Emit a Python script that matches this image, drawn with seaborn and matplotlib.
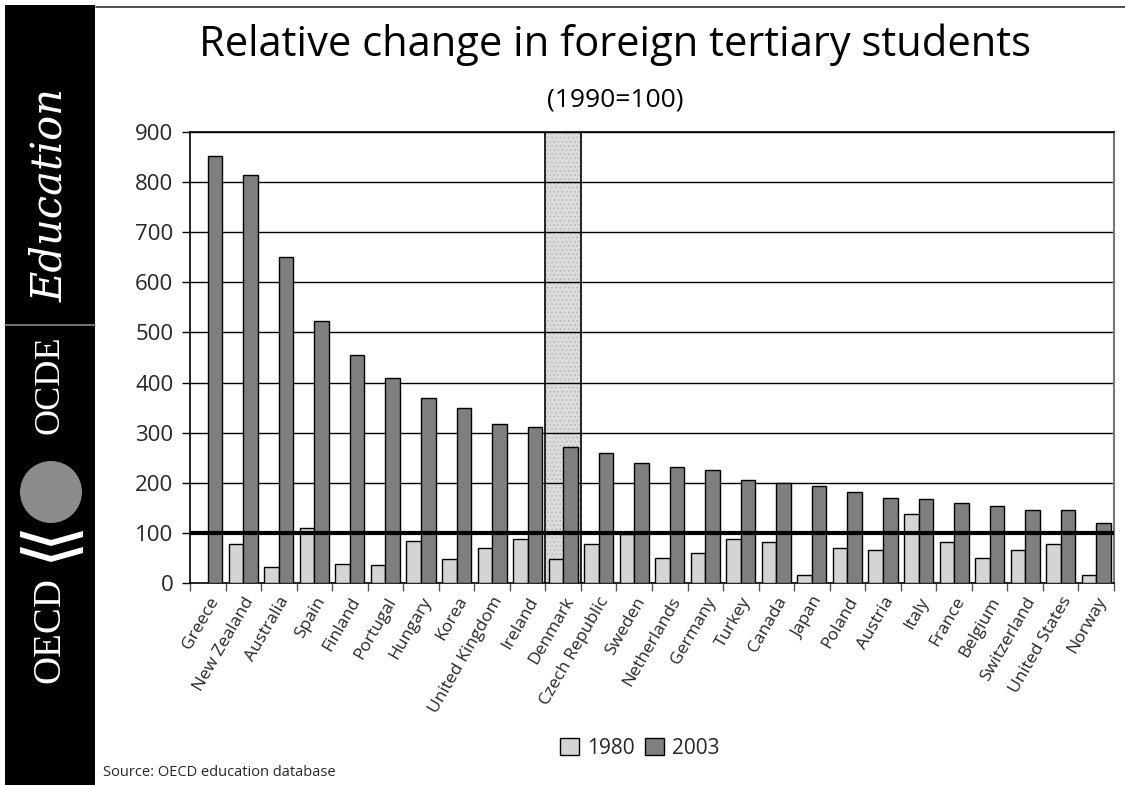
import matplotlib
matplotlib.use("Agg")
import matplotlib.pyplot as plt
import matplotlib.patches as mpatches
from matplotlib.ticker import FixedLocator
import numpy as np
import pandas as pd
import seaborn as sns

countries = ["Greece", "New Zealand", "Australia", "Spain", "Finland", "Portugal",
             "Hungary", "Korea", "United Kingdom", "Ireland", "Denmark",
             "Czech Republic", "Sweden", "Netherlands", "Germany", "Turkey",
             "Canada", "Japan", "Poland", "Austria", "Italy", "France", "Belgium",
             "Switzerland", "United States", "Norway"]
values_1980 = [np.nan, 77, 32, 109, 38, 35, 84, 47, 70, 88, 47,
               77, 97, 49, 59, 87, 81, 16, 70, 66, 137, 81, 49, 66, 77, 16]
values_2003 = [853, 815, 651, 522, 455, 410, 369, 350, 318, 311, 271,
               260, 240, 232, 226, 206, 200, 193, 181, 170, 168, 159, 154, 146, 146, 120]
series = ["1980", "2003"]
colors = ["#d4d4d4", "#7f7f7f"]
highlight = "Denmark"
yticks = [0, 100, 200, 300, 400, 500, 600, 700, 800, 900]

df = pd.DataFrame({
    "country": countries * 2,
    "year": [series[0]] * len(countries) + [series[1]] * len(countries),
    "value": values_1980 + values_2003,
})

sns.set_theme(style="white")
plt.rcParams["font.family"] = ["Open Sans", "DejaVu Sans"]
plt.rcParams["hatch.linewidth"] = 0.6

fig = plt.figure(figsize=(11.25, 7.85), dpi=100)
W, H = 1125, 785
ax = fig.add_axes([190 / W, 1 - 583 / H, (1114 - 190) / W, (583 - 132) / H])

sns.barplot(data=df, x="country", y="value", hue="year", order=countries,
            hue_order=series, palette=colors, width=0.82, gap=0,
            edgecolor="black", linewidth=1.0, saturation=1, ax=ax, legend=False,
            zorder=3)

n = len(countries)
ax.set_xlim(-0.5, n - 0.5)
ax.set_ylim(0, 900)

# highlighted column
hi = countries.index(highlight)
ax.axvspan(hi - 0.5, hi + 0.5, facecolor="#dcdcdc", edgecolor="#b5b5b5",
           hatch="....", linewidth=0, zorder=1)
ax.axvline(hi - 0.5, color="black", linewidth=1.2, zorder=2)
ax.axvline(hi + 0.5, color="black", linewidth=1.2, zorder=2)

# gridlines
for v in yticks[1:]:
    ax.axhline(v, color="black", linewidth=1.0, zorder=2)
ax.axhline(100, color="black", linewidth=3.0, zorder=4)

ax.yaxis.set_major_locator(FixedLocator(yticks))
ax.set_yticks(yticks)
ax.set_yticklabels([str(v) for v in yticks], fontsize=16)
ax.tick_params(axis="y", which="major", length=6, width=1, color="black",
               direction="out", left=True, pad=6)

ax.set_xticks(range(n))
ax.set_xticklabels(countries, rotation=60, ha="right", rotation_mode="anchor",
                   fontsize=12.5)
ax.tick_params(axis="x", which="major", length=0, pad=8)
ax.set_xticks(np.arange(-0.5, n, 1.0), minor=True)
ax.tick_params(axis="x", which="minor", length=6, width=1, color="#555555",
               direction="out", bottom=True)

ax.set_xlabel("")
ax.set_ylabel("")
for side in ["left", "top", "bottom"]:
    ax.spines[side].set_visible(True)
    ax.spines[side].set_color("black")
    ax.spines[side].set_linewidth(1.2)
ax.spines["right"].set_visible(True)
ax.spines["right"].set_color("#777777")
ax.spines["right"].set_linewidth(1.5)

# titles
fig.text(615 / W, 1 - 45 / H, "Relative change in foreign tertiary students",
         ha="center", va="center", fontsize=30, color="black")
fig.text(615 / W, 1 - 100 / H, "(1990=100)", ha="center", va="center",
         fontsize=19, color="black")

# legend
handles = [mpatches.Patch(facecolor=c, edgecolor="black", linewidth=1, label=s)
           for s, c in zip(series, colors)]
fig.legend(handles=handles, loc="center", bbox_to_anchor=(640 / W, 1 - 748 / H),
           ncol=2, frameon=False, fontsize=15, handlelength=0.9, handleheight=0.9,
           handletextpad=0.4, columnspacing=0.5, borderpad=0)

fig.text(103 / W, 1 - 773 / H, "Source: OECD education database",
         ha="left", va="center", fontsize=10.5)

# top border line
fig.add_artist(plt.Line2D([96 / W, 1.0], [1 - 7 / H, 1 - 7 / H],
                          color="#333333", linewidth=1.2))

# left banner
fig.add_artist(mpatches.Rectangle((5 / W, 0), 90 / W, 1 - 5 / H,
                                  transform=fig.transFigure, facecolor="black",
                                  edgecolor="none"))
fig.add_artist(plt.Line2D([5 / W, 95 / W], [1 - 325 / H, 1 - 325 / H],
                          color="#888888", linewidth=1.2))
fig.text(50 / W, 1 - 195 / H, "Education", rotation=90, ha="center", va="center",
         color="white", fontsize=30, family="DejaVu Serif", fontstyle="italic")
fig.text(50 / W, 1 - 385 / H, "OCDE", rotation=90, ha="center", va="center",
         color="white", fontsize=26, family="Liberation Serif")
fig.add_artist(mpatches.Ellipse((51 / W, 1 - 492 / H), 62 / W, 62 / H,
                                transform=fig.transFigure, facecolor="#8c8c8c",
                                edgecolor="none"))
for yc in (531, 547):
    pts = [(20, yc), (51, yc + 9), (83, yc), (83, yc + 6), (51, yc + 15), (20, yc + 6)]
    fig.add_artist(mpatches.Polygon([(x / W, 1 - y / H) for x, y in pts],
                                    closed=True, transform=fig.transFigure,
                                    facecolor="white", edgecolor="none"))
fig.text(50 / W, 1 - 630 / H, "OECD", rotation=90, ha="center", va="center",
         color="white", fontsize=28, family="Liberation Serif")

fig.savefig("out.png", dpi=100)
